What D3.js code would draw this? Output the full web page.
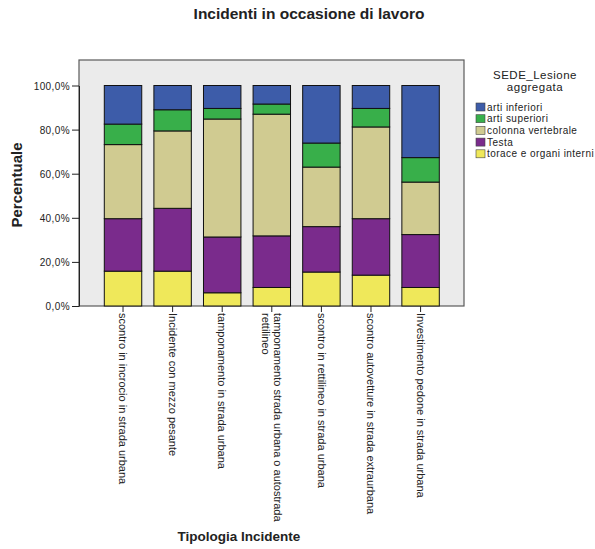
<!DOCTYPE html>
<html>
<head>
<meta charset="utf-8">
<script src="https://cdn.jsdelivr.net/npm/d3@7/dist/d3.min.js"></script>
<style>
  html, body { margin: 0; padding: 0; background: #ffffff; }
  svg { display: block; }
  text { font-family: "Liberation Sans", Arial, sans-serif; fill: #222; }
</style>
</head>
<body>
<svg id="chart" width="595" height="549"></svg>
<script>
// Accident types (x categories)
const categories = [
  "scontro in incrocio in strada urbana",
  "Incidente con mezzo pesante",
  "tamponamento in strada urbana",
  "tamponamento strada urbana o autostrada|rettilineo",
  "scontro in rettilineo in strada urbana",
  "scontro autovetture in strada extraurbana",
  "Investimento pedone in strada urbana"
];

// Injury site groups, bottom to top of each stack
const seriesNames = ["torace e organi interni", "Testa", "colonna vertebrale", "arti superiori", "arti inferiori"];
const seriesColors = ["#efe85a", "#7a2b8c", "#d0cb91", "#38af4a", "#3d5ca9"];

// Percentages per category, one array per injury site
const torace    = [15.8, 15.8,  6.0,  8.4, 15.4, 14.0,  8.4];
const testa     = [23.8, 28.5, 25.3, 23.4, 20.6, 25.6, 24.0];
const colonna   = [33.6, 35.1, 53.5, 55.2, 27.0, 41.6, 23.8];
const artiSup   = [ 9.3,  9.6,  4.8,  4.6, 10.9,  8.4, 11.1];
const artiInf   = [17.5, 11.0, 10.4,  8.4, 26.1, 10.4, 32.7];

const yTicks = [0, 20, 40, 60, 80, 100];
const legendOrder = ["arti inferiori", "arti superiori", "colonna vertebrale", "Testa", "torace e organi interni"];

const seriesValues = [torace, testa, colonna, artiSup, artiInf];
const rows = categories.map((c, i) => {
  const r = { cat: c };
  seriesNames.forEach((s, k) => { r[s] = seriesValues[k][i]; });
  return r;
});

const svg = d3.select("#chart");
const frame = { left: 79, right: 464, top: 60, bottom: 306 };

const x = d3.scaleBand()
  .domain(categories)
  .range([104.3, 439.3])
  .paddingInner(0.245)
  .paddingOuter(0);

const y = d3.scaleLinear().domain([0, 100]).range([frame.bottom, 85.5]);

const color = d3.scaleOrdinal().domain(seriesNames).range(seriesColors);

// Plot background
svg.append("rect")
  .attr("x", frame.left).attr("y", frame.top)
  .attr("width", frame.right - frame.left).attr("height", frame.bottom - frame.top)
  .attr("fill", "#ebebeb").attr("stroke", "#5a5a5a").attr("stroke-width", 1.2);

// Stacked bars
const stacked = d3.stack().keys(seriesNames)(rows);
svg.append("g").selectAll("g")
  .data(stacked)
  .join("g")
  .attr("fill", d => color(d.key))
  .selectAll("rect")
  .data(d => d)
  .join("rect")
  .attr("x", d => x(d.data.cat))
  .attr("y", d => y(d[1]))
  .attr("width", x.bandwidth())
  .attr("height", d => y(d[0]) - y(d[1]))
  .attr("stroke", "#111").attr("stroke-width", 1);

// Y axis
const yAxis = svg.append("g")
  .attr("transform", `translate(${frame.left},0)`)
  .call(d3.axisLeft(y).tickValues(yTicks).tickSize(7).tickSizeOuter(0)
    .tickFormat(d => d3.format(".1f")(d).replace(".", ",") + "%"));
yAxis.select(".domain").attr("stroke", "#222");
yAxis.selectAll(".tick line").attr("stroke", "#222");
yAxis.selectAll(".tick text")
  .attr("x", -9).attr("dy", "0.35em")
  .style("font-size", "10px").style("letter-spacing", "0.4px").attr("fill", "#333");

// X axis
const xAxis = svg.append("g")
  .attr("transform", `translate(0,${frame.bottom})`)
  .call(d3.axisBottom(x).tickSize(6).tickSizeOuter(0).tickFormat(""));
xAxis.select(".domain").remove();
xAxis.selectAll(".tick line").attr("stroke", "#222");

// Rotated category labels (may span two lines, split on "|")
xAxis.selectAll(".tick").each(function (d) {
  const lines = d.split("|");
  const t = d3.select(this).append("text")
    .attr("transform", "translate(0,7) rotate(90)")
    .attr("text-anchor", "start")
    .style("font-size", "11px")
    .attr("fill", "#222");
  const shift = (lines.length - 1) * 0.55;
  lines.forEach((ln, i) => {
    t.append("tspan")
      .attr("x", 0)
      .attr("y", 0)
      .attr("dy", (0.35 - shift + i * 1.1) + "em")
      .text(ln);
  });
});

// Title
svg.append("text")
  .attr("x", 309).attr("y", 19)
  .attr("text-anchor", "middle")
  .style("font-size", "15.5px").style("font-weight", "bold")
  .attr("fill", "#333")
  .text("Incidenti in occasione di lavoro");

// Axis titles
svg.append("text")
  .attr("transform", "translate(22,185) rotate(-90)")
  .attr("text-anchor", "middle")
  .style("font-size", "15px").style("font-weight", "bold")
  .attr("fill", "#111")
  .text("Percentuale");

svg.append("text")
  .attr("x", 239).attr("y", 541)
  .attr("text-anchor", "middle")
  .style("font-size", "13.5px").style("font-weight", "bold")
  .attr("fill", "#111")
  .text("Tipologia Incidente");

// Legend
const legend = svg.append("g");
legend.append("text")
  .attr("x", 535).attr("y", 79)
  .attr("text-anchor", "middle")
  .style("font-size", "11.5px").style("letter-spacing", "0.5px")
  .attr("fill", "#333")
  .text("SEDE_Lesione");
legend.append("text")
  .attr("x", 535).attr("y", 90.5)
  .attr("text-anchor", "middle")
  .style("font-size", "11.5px").style("letter-spacing", "0.5px")
  .attr("fill", "#333")
  .text("aggregata");

const items = legend.selectAll("g.item")
  .data(legendOrder)
  .join("g")
  .attr("class", "item")
  .attr("transform", (d, i) => `translate(476,${103 + i * 11.7})`);
items.append("rect")
  .attr("width", 9).attr("height", 8)
  .attr("fill", d => color(d))
  .attr("stroke", "#444").attr("stroke-width", 0.6);
items.append("text")
  .attr("x", 11).attr("y", 4).attr("dy", "0.35em")
  .style("font-size", "10px").style("letter-spacing", "0.45px")
  .attr("fill", "#222")
  .text(d => d);
</script>
</body>
</html>
